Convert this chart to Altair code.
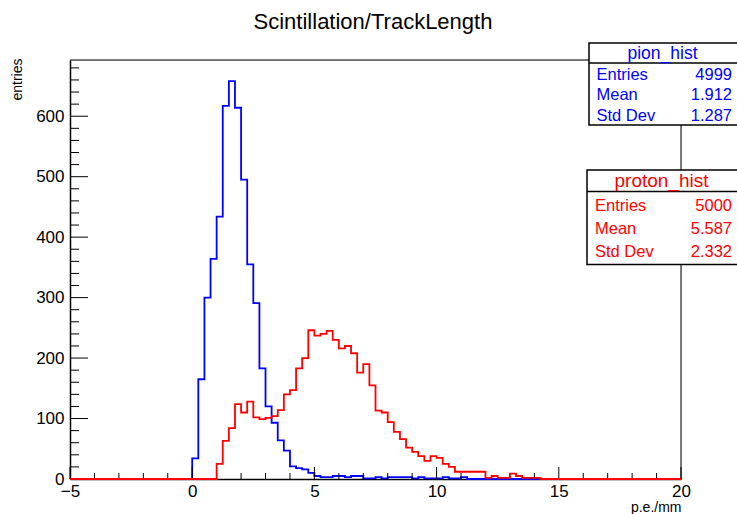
import altair as alt
import pandas as pd

# Histogram binning: 100 bins over [-5, 20)
X_MIN, X_MAX, N_BINS = -5.0, 20.0, 100
BIN_W = (X_MAX - X_MIN) / N_BINS
Y_MAX = 693

# Bin contents, listed from the first non-empty bin onward
pion_first_edge = 0.0
pion_counts = [34, 165, 300, 364, 434, 617, 658, 614, 495, 355, 291, 183,
               120, 93, 64, 47, 21, 18, 16, 10,
               5, 3, 3, 5, 5, 3, 5, 5, 1, 1, 3, 1, 3, 3, 3, 3,
               1, 3, 1, 1, 1, 3, 1, 1, 3]

proton_first_edge = 1.0
proton_counts = [25, 63, 84, 124, 110, 128, 102, 99, 101, 104, 114, 140,
                 147, 183, 200, 246, 237, 240, 245, 230, 216, 220, 208, 176,
                 190, 155, 113, 110, 94, 78, 66, 52, 45, 38, 30, 38, 35, 25,
                 20, 12, 12, 12, 12, 12, 2, 5, 2, 2, 9, 5, 2, 2, 2]

# Statistics boxes
stat_names = ["Entries", "Mean", "Std Dev"]
pion_stats = ["4999", "1.912", "1.287"]
proton_stats = ["5000", "5.587", "2.332"]

# Axis ticks
x_major = [-5, 0, 5, 10, 15, 20]
x_minor = [v for v in range(-5, 21) if v % 5 != 0]
y_major = [0, 100, 200, 300, 400, 500, 600]
y_minor = [v for v in range(0, 690, 20) if v % 100 != 0]

W, H = 611, 419
FONT = "Liberation Sans"
BLUE, RED = "#0000ff", "#ff0000"


def step_frame(first_edge, counts):
    full = [0] * N_BINS
    start = int(round((first_edge - X_MIN) / BIN_W))
    for i, c in enumerate(counts):
        full[start + i] = c
    edges = [X_MIN + i * BIN_W for i in range(N_BINS)] + [X_MAX]
    return pd.DataFrame({"edge": edges, "count": full + [full[-1]]})


xs = alt.Scale(domain=[X_MIN, X_MAX], nice=False, zero=False)
ys = alt.Scale(domain=[0, Y_MAX], nice=False, zero=True)

x_axis = alt.Axis(values=x_major, ticks=False, tickSize=0, grid=False,
                  domainColor="black", domainWidth=1.5, labelPadding=4,
                  labelFontSize=17, labelColor="black", labelFont=FONT,
                  title="p.e./mm", titleFont=FONT, titleFontSize=14,
                  titleFontWeight="normal", titleColor="black",
                  titleAlign="right", titleX=W, titleY=28,
                  titleBaseline="middle", labelFlush=False)
y_axis = alt.Axis(values=y_major, ticks=False, tickSize=0, grid=False,
                  domainColor="black", domainWidth=1.5, labelPadding=6,
                  labelFontSize=17, labelColor="black", labelFont=FONT,
                  title="entries", titleFont=FONT, titleFontSize=14,
                  titleFontWeight="normal", titleColor="black",
                  titleAngle=270, titleAlign="right", titleBaseline="middle",
                  titleX=-53, titleY=-2, labelFlush=False)


def hist_layer(first_edge, counts, color):
    return alt.Chart(step_frame(first_edge, counts)).mark_line(
        interpolate="step-after", color=color, strokeWidth=1.8
    ).encode(
        x=alt.X("edge:Q", scale=xs, axis=x_axis),
        y=alt.Y("count:Q", scale=ys, axis=y_axis),
    )


pion = hist_layer(pion_first_edge, pion_counts, BLUE)
proton = hist_layer(proton_first_edge, proton_counts, RED)


def x_ticks(values, length):
    return alt.Chart(pd.DataFrame({"edge": values})).mark_rule(
        color="black", strokeWidth=1
    ).encode(x=alt.X("edge:Q", scale=xs, axis=x_axis),
             y=alt.value(H), y2=alt.value(H - length))


def y_ticks(values, length):
    return alt.Chart(pd.DataFrame({"count": values})).mark_rule(
        color="black", strokeWidth=1
    ).encode(y=alt.Y("count:Q", scale=ys, axis=y_axis),
             x=alt.value(0), x2=alt.value(length))


one = pd.DataFrame({"k": [0]})

# Frame: top and right edges
frame_top = alt.Chart(pd.DataFrame({"edge": [X_MIN], "edge2": [X_MAX], "count": [Y_MAX]})).mark_rule(
    color="black", strokeWidth=1
).encode(x=alt.X("edge:Q", scale=xs, axis=x_axis), x2="edge2:Q",
         y=alt.Y("count:Q", scale=ys, axis=y_axis))
frame_right = alt.Chart(pd.DataFrame({"edge": [X_MAX], "count": [0], "count2": [Y_MAX]})).mark_rule(
    color="black", strokeWidth=1
).encode(x=alt.X("edge:Q", scale=xs, axis=x_axis),
         y=alt.Y("count:Q", scale=ys, axis=y_axis), y2="count2:Q")


def stat_box(name, names, values, color, left, top, head_h, row_ys,
             head_size, row_size, label_x, value_x, bottom):
    layers = []
    layers.append(alt.Chart(one).mark_rect(
        fill="white", stroke="black", strokeWidth=1.5
    ).encode(x=alt.value(left), x2=alt.value(668),
             y=alt.value(top), y2=alt.value(bottom)))
    layers.append(alt.Chart(one).mark_rule(color="black", strokeWidth=1.5).encode(
        x=alt.value(left), x2=alt.value(668), y=alt.value(top + head_h)))
    layers.append(alt.Chart(pd.DataFrame({"t": [name]})).mark_text(
        font=FONT, fontSize=head_size, color=color, align="center",
        baseline="middle"
    ).encode(x=alt.value((left + value_x + 4) / 2),
             y=alt.value(top + head_h / 2 + 0.5), text="t:N"))
    for lab, val, ry in zip(names, values, row_ys):
        layers.append(alt.Chart(pd.DataFrame({"t": [lab]})).mark_text(
            font=FONT, fontSize=row_size, color=color, align="left",
            baseline="middle"
        ).encode(x=alt.value(label_x), y=alt.value(ry), text="t:N"))
        layers.append(alt.Chart(pd.DataFrame({"t": [val]})).mark_text(
            font=FONT, fontSize=row_size, color=color, align="right",
            baseline="middle"
        ).encode(x=alt.value(value_x), y=alt.value(ry), text="t:N"))
    return layers


pion_box = stat_box("pion_hist", stat_names, pion_stats, BLUE,
                    left=519, top=-17, head_h=20, row_ys=[14.5, 35, 55.5],
                    head_size=17.5, row_size=16.5, label_x=526.5, value_x=662,
                    bottom=65)
proton_box = stat_box("proton_hist", stat_names, proton_stats, RED,
                      left=517, top=110, head_h=21.5, row_ys=[146, 168.5, 192],
                      head_size=19, row_size=16.5, label_x=525, value_x=662,
                      bottom=204.5)

title = alt.Chart(pd.DataFrame({"t": ["Scintillation/TrackLength"]})).mark_text(
    font=FONT, fontSize=22, color="black", align="center", baseline="middle"
).encode(x=alt.value(303), y=alt.value(-38), text="t:N")

chart = alt.layer(
    pion,
    x_ticks(x_major, 12), x_ticks(x_minor, 6),
    y_ticks(y_major, 18), y_ticks(y_minor, 9),
    frame_top, frame_right,
    proton,
    *pion_box, *proton_box,
    title,
).properties(
    width=W, height=H,
    padding={"left": 70, "top": 60, "right": 56, "bottom": 35},
    autosize=alt.AutoSizeParams(type="none"),
    background="white",
).configure_view(strokeWidth=0).configure(font=FONT)

chart.save("out.html", embed_options={"renderer": "svg", "actions": False})
